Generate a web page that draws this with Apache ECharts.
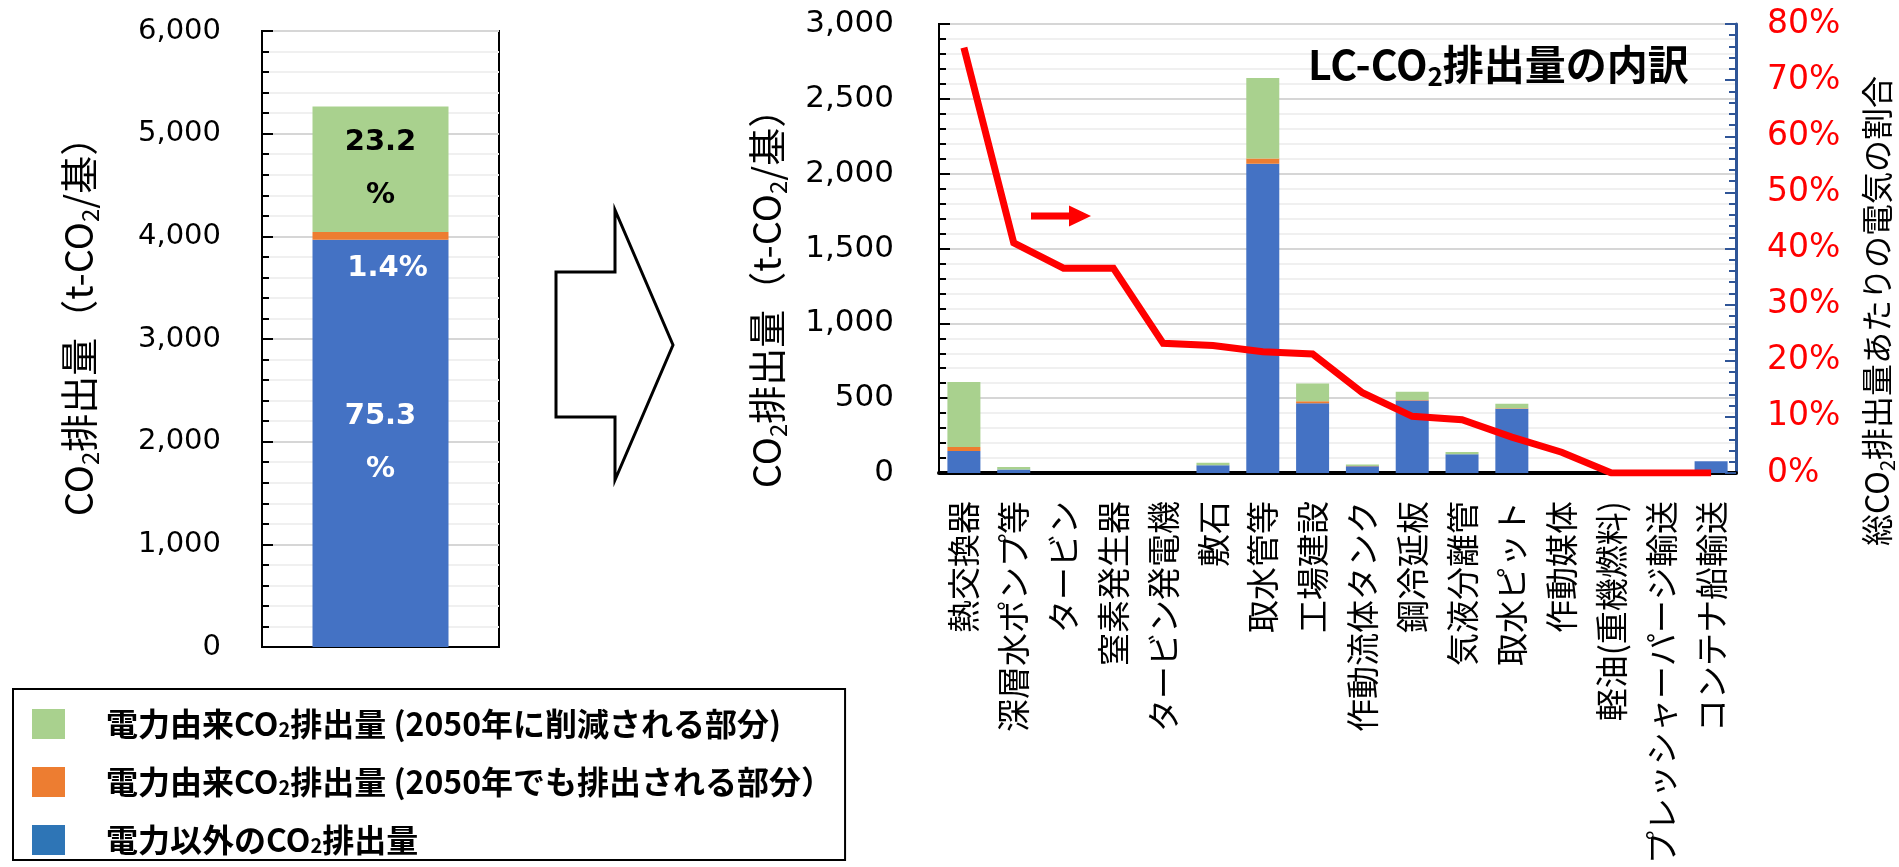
<!DOCTYPE html>
<html>
<head>
<meta charset="utf-8">
<script src="https://cdn.jsdelivr.net/npm/echarts@6/dist/echarts.min.js"></script>
<style>
  html, body { margin: 0; padding: 0; background: #fff; }
  #chart { width: 1899px; height: 867px; }
</style>
</head>
<body>
<div id="chart"></div>
<script>
// ---- data ----
const seriesNames = [
  '電力以外のCO2排出量',
  '電力由来CO2排出量 (2050年でも排出される部分）',
  '電力由来CO2排出量 (2050年に削減される部分)'
];

// single stacked bar: total per unit (t-CO2)
const totalCategory = ['合計'];
const totalNonElec = [3966];
const totalElecRemain = [75];
const totalElecCut = [1223];

// breakdown by component
const components = [
  '熱交換器', '深層水ポンプ等', 'タービン', '窒素発生器', 'タービン発電機', '敷石',
  '取水管等', '工場建設', '作動流体タンク', '鋼冷延板', '気液分離管', '取水ピット',
  '作動媒体', '軽油(重機燃料)', 'プレッシャーパージ輸送', 'コンテナ船輸送'
];
const compNonElec    = [147, 23, 0, 0, 0, 51, 2067, 466, 45, 484, 125, 430, 0, 0, 0, 79];
const compElecRemain = [27, 1, 0, 0, 0, 1, 35, 14, 1, 3, 1, 2, 0, 0, 0, 0];
const compElecCut    = [434, 16, 0, 0, 0, 17, 537, 118, 11, 56, 14, 30, 0, 0, 0, 0];
// share of electricity in each component's total CO2 (%)
const elecShare = [75.8, 41.0, 36.5, 36.5, 23.1, 22.7, 21.6, 21.2, 14.3, 10.1, 9.5, 6.4, 3.7, 0, 0, 0];

// ---- styling ----
const FONT_NUM = 'DejaVu Sans';
const FONT_JP = 'Noto Sans CJK JP';
const C_BLUE = '#4472C4';
const C_ORANGE = '#ED7D31';
const C_GREEN = '#A9D18E';
const C_AXIS_R = '#2F5597';

const totalSum = totalNonElec[0] + totalElecRemain[0] + totalElecCut[0];
const pct = v => (v / totalSum * 100).toFixed(1);

function valueAxis(gridIndex, max, interval, labelSize, margin) {
  return {
    type: 'value', gridIndex, min: 0, max, interval,
    axisLine: { show: true, lineStyle: { color: '#000', width: 2 } },
    axisTick: { show: true, inside: true, length: 11, lineStyle: { color: '#000', width: 2 } },
    minorTick: { show: true, splitNumber: 5, length: 7, lineStyle: { color: '#000', width: 2 } },
    splitLine: { show: true, lineStyle: { color: '#D6D6D6', width: 2 } },
    minorSplitLine: { show: true, lineStyle: { color: '#F0F0F0', width: 2 } },
    axisLabel: {
      color: '#000', fontSize: labelSize, fontFamily: FONT_NUM, margin,
      formatter: v => v.toLocaleString('en-US')
    }
  };
}

function axisTitle(x, y, size, pre, mid, post) {
  // rotated title with subscript "2"
  let text = '';
  if (pre) text += '{a|' + pre + '}';
  text += '{a|CO}{b|2}{a|' + mid + '}';
  if (post) text += '{b|2}{a|' + post + '}';
  return {
    type: 'text', x, y, rotation: Math.PI / 2, z: 100,
    style: {
      text, align: 'center', verticalAlign: 'middle', fill: '#000',
      rich: {
        a: { fontSize: size, fontFamily: FONT_JP, fill: '#000', lineHeight: size + 8 },
        b: { fontSize: Math.round(size * 0.62), fontFamily: FONT_JP, fill: '#000',
             lineHeight: Math.round(size * 0.66), verticalAlign: 'bottom' }
      }
    }
  };
}

const barLabelBase = {
  show: true, fontFamily: FONT_NUM, fontWeight: 'bold', fontSize: 29, lineHeight: 53
};

const option = {
  animation: false,
  backgroundColor: '#fff',
  grid: [
    { left: 262, top: 31, width: 237, height: 616, show: true, borderColor: '#000', borderWidth: 2 },
    { left: 939, top: 24, width: 797, height: 507, show: true, borderColor: '#000', borderWidth: 2 }
  ],
  xAxis: [
    {
      type: 'category', gridIndex: 0, data: totalCategory,
      axisLine: { lineStyle: { color: '#000', width: 2 } },
      axisTick: { show: false }, axisLabel: { show: false }
    },
    {
      type: 'category', gridIndex: 1, data: components,
      axisLine: { lineStyle: { color: '#000', width: 4 } },
      axisTick: { show: false },
      axisLabel: {
        interval: 0, rotate: 90, margin: 28, color: '#000',
        fontSize: 33, fontFamily: FONT_JP
      }
    }
  ],
  yAxis: [
    valueAxis(0, 6000, 1000, 29, 41),
    valueAxis(1, 3000, 500, 31, 45),
    {
      type: 'value', gridIndex: 1, position: 'right', min: 0, max: 80, interval: 10,
      axisLine: { show: true, lineStyle: { color: C_AXIS_R, width: 3 } },
      axisTick: { show: true, inside: true, length: 11, lineStyle: { color: C_AXIS_R, width: 2 } },
      minorTick: { show: true, splitNumber: 5, length: 7, lineStyle: { color: C_AXIS_R, width: 2 } },
      splitLine: { show: false },
      axisLabel: { color: '#FF0000', fontSize: 33, fontFamily: FONT_NUM, margin: 31, formatter: '{value}%' }
    }
  ],
  legend: {
    orient: 'vertical', left: 13, top: 689, height: 170,
    padding: [19, 12, 4, 19],
    itemWidth: 33, itemHeight: 30, itemGap: 26,
    borderColor: '#000', borderWidth: 2,
    icon: 'rect',
    data: [
      { name: seriesNames[2], itemStyle: { color: C_GREEN } },
      { name: seriesNames[1], itemStyle: { color: C_ORANGE } },
      { name: seriesNames[0], itemStyle: { color: '#2E75B6' } }
    ],
    formatter: name => '{sp|.}' + name.replace('CO2', 'CO{sub|2}'),
    textStyle: {
      color: '#000', fontSize: 32, fontWeight: 'bold', fontFamily: FONT_JP, lineHeight: 30,
      rich: {
        sp: { width: 36, color: 'rgba(0,0,0,0)', fontSize: 10, lineHeight: 30 },
        sub: { fontSize: 20, fontWeight: 'bold', fontFamily: FONT_JP, color: '#000',
               lineHeight: 20, verticalAlign: 'bottom' }
      }
    }
  },
  series: [
    {
      name: seriesNames[0], type: 'bar', xAxisIndex: 0, yAxisIndex: 0, stack: 'total',
      barWidth: 136, data: totalNonElec, itemStyle: { color: C_BLUE },
      label: Object.assign({}, barLabelBase, {
        position: 'inside', color: '#fff',
        formatter: p => pct(p.value) + '\n%'
      })
    },
    {
      name: seriesNames[1], type: 'bar', xAxisIndex: 0, yAxisIndex: 0, stack: 'total',
      barWidth: 136, data: totalElecRemain, itemStyle: { color: C_ORANGE },
      label: Object.assign({}, barLabelBase, {
        position: 'bottom', distance: 12, offset: [7, 0], color: '#fff', lineHeight: 34,
        formatter: p => pct(p.value) + '%'
      })
    },
    {
      name: seriesNames[2], type: 'bar', xAxisIndex: 0, yAxisIndex: 0, stack: 'total',
      barWidth: 136, data: totalElecCut, itemStyle: { color: C_GREEN },
      label: Object.assign({}, barLabelBase, {
        position: 'inside', color: '#000',
        formatter: p => pct(p.value) + '\n%'
      })
    },
    {
      name: seriesNames[0], type: 'bar', xAxisIndex: 1, yAxisIndex: 1, stack: 'comp',
      barWidth: 33, data: compNonElec, itemStyle: { color: C_BLUE }
    },
    {
      name: seriesNames[1], type: 'bar', xAxisIndex: 1, yAxisIndex: 1, stack: 'comp',
      barWidth: 33, data: compElecRemain, itemStyle: { color: C_ORANGE }
    },
    {
      name: seriesNames[2], type: 'bar', xAxisIndex: 1, yAxisIndex: 1, stack: 'comp',
      barWidth: 33, data: compElecCut, itemStyle: { color: C_GREEN }
    },
    {
      name: '電気の割合', type: 'line', xAxisIndex: 1, yAxisIndex: 2, z: 5,
      data: elecShare, symbol: 'none',
      lineStyle: { color: '#FF0000', width: 7, join: 'miter' }
    }
  ],
  graphic: [
    // block arrow between the two charts
    {
      type: 'polygon', z: 100,
      shape: { points: [[556, 272], [615, 272], [615, 210], [673, 345], [615, 480], [615, 417], [556, 417]] },
      style: { fill: '#fff', stroke: '#000', lineWidth: 3 }
    },
    // small red arrow pointing to the right axis
    {
      type: 'polygon', z: 100,
      shape: { points: [[1031, 212.5], [1069, 212.5], [1069, 205.5], [1091, 216], [1069, 226.5], [1069, 219.5], [1031, 219.5]] },
      style: { fill: '#FF0000' }
    },
    // chart title
    {
      type: 'text', x: 1308, y: 64, z: 100,
      style: {
        text: '{t|LC-CO}{s|2}{t|排出量の内訳}', align: 'left', verticalAlign: 'middle',
        rich: {
          t: { fontSize: 41, fontWeight: 'bold', fontFamily: FONT_JP, fill: '#000', lineHeight: 50 },
          s: { fontSize: 26, fontWeight: 'bold', fontFamily: FONT_JP, fill: '#000', lineHeight: 28, verticalAlign: 'bottom' }
        }
      }
    },
    axisTitle(79, 317, 38, '', '排出量（t-CO', '/基）'),
    axisTitle(767, 289, 38, '', '排出量（t-CO', '/基）'),
    axisTitle(1877, 311, 32, '総', '排出量あたりの電気の割合', '')
  ]
};

const chart = echarts.init(document.getElementById('chart'), null, { renderer: 'canvas' });
chart.setOption(option);
</script>
</body>
</html>
